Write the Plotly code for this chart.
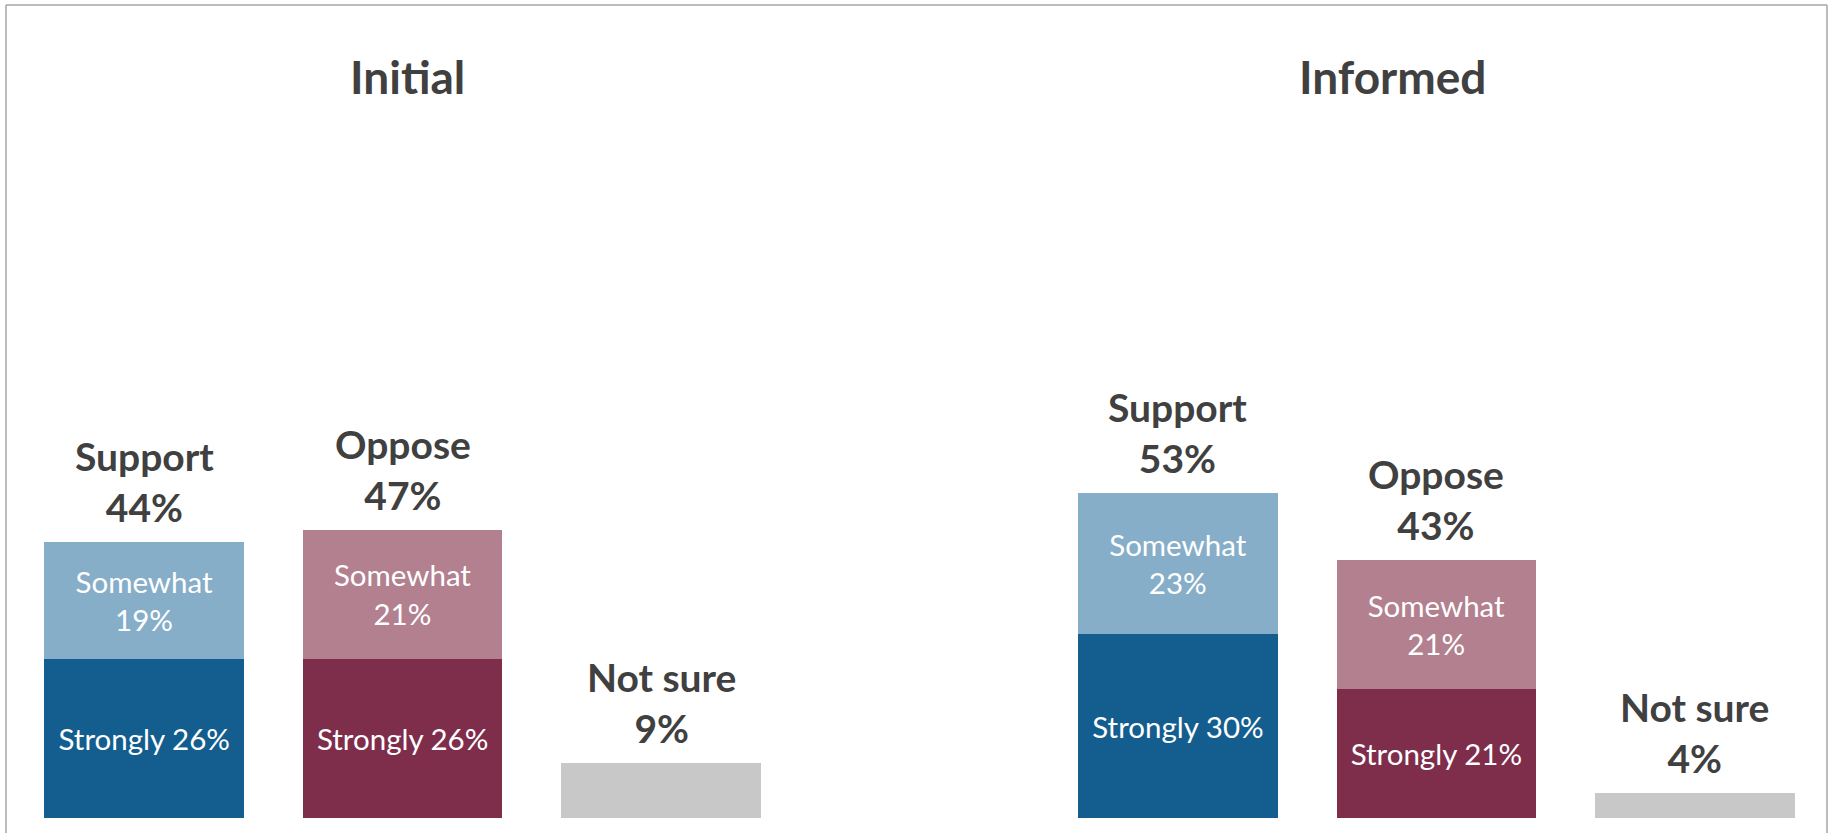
import plotly.graph_objects as go

# ---------------- data ----------------
groups = ["Initial", "Informed"]
support_strongly = [26, 30]
support_somewhat = [19, 23]
support_total = [44, 53]
oppose_strongly = [26, 21]
oppose_somewhat = [21, 21]
oppose_total = [47, 43]
not_sure = [9, 4]

# ---------------- style ----------------
W, H = 1831, 833
ML, MR, MT, MB = 15, 7, 82, 15
PW, PH = W - ML - MR, H - MT - MB
FONT = "Lato"
TXT = "#404040"
BLUE_D, BLUE_L = "#135E8E", "#87AEC8"
RED_D, RED_L = "#7E2D4B", "#B2808F"
GREY = "#C8C8C8"
BAR_W = 0.772
YMAX = 120
IN_SIZE = 29.5

# x slots: support, oppose, not sure for each group, one empty slot between
xs_sup = [g * 4 + 0 for g in range(len(groups))]
xs_opp = [g * 4 + 1 for g in range(len(groups))]
xs_ns = [g * 4 + 2 for g in range(len(groups))]

fig = go.Figure()

# Strongly segments
fig.add_trace(go.Bar(
    x=xs_sup + xs_opp,
    y=support_strongly + oppose_strongly,
    width=BAR_W,
    marker=dict(color=[BLUE_D] * len(groups) + [RED_D] * len(groups), line=dict(width=0)),
    text=[f"Strongly {v}%" for v in support_strongly + oppose_strongly],
    textposition="inside", insidetextanchor="middle", textangle=0,
    constraintext="none",
    textfont=dict(family=FONT, size=IN_SIZE, color="white"),
    hoverinfo="skip", showlegend=False,
))
# Somewhat segments
fig.add_trace(go.Bar(
    x=xs_sup + xs_opp,
    y=support_somewhat + oppose_somewhat,
    width=BAR_W,
    marker=dict(color=[BLUE_L] * len(groups) + [RED_L] * len(groups), line=dict(width=0)),
    text=[f"Somewhat<br>{v}%" for v in support_somewhat + oppose_somewhat],
    textposition="inside", insidetextanchor="middle", textangle=0,
    constraintext="none",
    textfont=dict(family=FONT, size=IN_SIZE, color="white"),
    hoverinfo="skip", showlegend=False,
))
# Not sure
fig.add_trace(go.Bar(
    x=xs_ns, y=not_sure, width=BAR_W,
    marker=dict(color=GREY, line=dict(width=0)),
    hoverinfo="skip", showlegend=False,
))

annotations = []
label_font = dict(family=FONT, size=39, color=TXT)
for i in range(len(groups)):
    annotations.append(dict(
        x=xs_sup[i], y=support_strongly[i] + support_somewhat[i],
        text=f"<b>Support<br>{support_total[i]}%</b>",
        showarrow=False, xanchor="center", yanchor="bottom", yshift=10,
        font=label_font))
    annotations.append(dict(
        x=xs_opp[i], y=oppose_strongly[i] + oppose_somewhat[i],
        text=f"<b>Oppose<br>{oppose_total[i]}%</b>",
        showarrow=False, xanchor="center", yanchor="bottom", yshift=10,
        font=label_font))
    annotations.append(dict(
        x=xs_ns[i], y=not_sure[i],
        text=f"<b>Not sure<br>{not_sure[i]}%</b>",
        showarrow=False, xanchor="center", yanchor="bottom", yshift=10,
        font=label_font))

# group titles
title_px = [407, 1392]
for g, px in zip(groups, title_px):
    annotations.append(dict(
        x=(px - ML) / PW, xref="paper", y=(H - MB - 77) / PH, yref="paper",
        text=f"<b>{g}</b>", showarrow=False, xanchor="center", yanchor="middle",
        font=dict(family=FONT, size=46, color=TXT)))

# frame (left, top, right)
x_left = (6 - ML) / PW
x_right = (1827 - ML) / PW
y_top = (H - MB - 5) / PH
y_bot = -0.1
border = dict(color="#A6A6A6", width=1.5)
shapes = [
    dict(type="line", xref="paper", yref="paper", x0=x_left, x1=x_left, y0=y_bot, y1=y_top, line=border),
    dict(type="line", xref="paper", yref="paper", x0=x_left, x1=x_right, y0=y_top, y1=y_top, line=border),
    dict(type="line", xref="paper", yref="paper", x0=x_right, x1=x_right, y0=y_bot, y1=y_top, line=border),
]

fig.update_layout(
    width=W, height=H,
    margin=dict(l=ML, r=MR, t=MT, b=MB),
    barmode="stack",
    paper_bgcolor="white", plot_bgcolor="white",
    xaxis=dict(range=[-0.5, 6.5], visible=False, fixedrange=True),
    yaxis=dict(range=[0, YMAX], visible=False, fixedrange=True),
    annotations=annotations, shapes=shapes,
    font=dict(family=FONT, color=TXT),
)

fig.write_html(
    "out.html",
    config={"displayModeBar": False},
    post_script="document.body.style.margin='0';document.body.style.overflow='hidden';",
)
